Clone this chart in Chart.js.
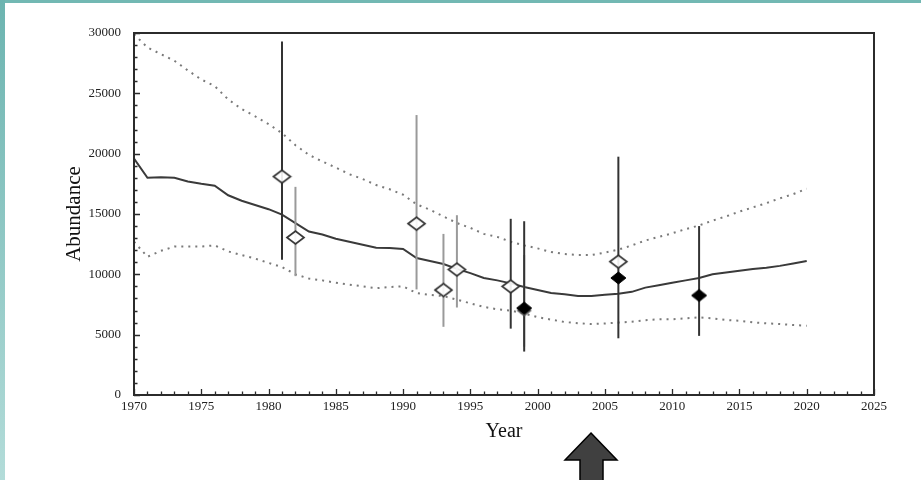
<!DOCTYPE html>
<html>
<head>
<meta charset="utf-8">
<script src="https://cdn.jsdelivr.net/npm/chart.js@4"></script>
<style>
  html,body{margin:0;padding:0;background:#fff;}
  #wrap{position:relative;width:921px;height:480px;overflow:hidden;background:#fff;}
  #c{position:absolute;left:0;top:0;}
  #topbar{position:absolute;left:0;top:0;width:921px;height:3px;background:#72b8b3;}
  #leftbar{position:absolute;left:0;top:0;width:5px;height:480px;background:linear-gradient(to bottom,#6cb4b0,#b3dcd9);}
  #arrow{position:absolute;left:0;top:0;}
</style>
</head>
<body>
<div id="wrap">
  <canvas id="c" width="921" height="480"></canvas>
  <div id="topbar"></div>
  <div id="leftbar"></div>
  <svg id="arrow" width="921" height="480">
    <polygon points="591,433 617,460 603,460 603,482 580,482 580,460 565,460" fill="#404040" stroke="#000" stroke-width="1.5"/>
  </svg>
</div>
<script>
// ---- data ----
const years = [1970,1971,1972,1973,1974,1975,1976,1977,1978,1979,
  1980,1981,1982,1983,1984,1985,1986,1987,1988,1989,
  1990,1991,1992,1993,1994,1995,1996,1997,1998,1999,
  2000,2001,2002,2003,2004,2005,2006,2007,2008,2009,
  2010,2011,2012,2013,2014,2015,2016,2017,2018,2019,2020];
const meanAbundance = [19600,18000,18050,18000,17700,17500,17350,16550,16100,15750,
  15400,14950,14250,13550,13300,12950,12700,12450,12200,12180,
  12100,11350,11100,10850,10450,10100,9700,9500,9250,8950,
  8700,8450,8350,8200,8200,8300,8400,8550,8900,9100,
  9300,9500,9700,10000,10150,10300,10450,10550,10700,10900,11100];
const upperBound = [29900,28800,28250,27700,26900,26150,25600,24500,23700,23100,
  22450,21700,20700,19900,19350,18850,18300,17900,17400,17050,
  16600,15800,15350,14800,14250,13850,13350,13100,12700,12400,
  12150,11850,11680,11600,11600,11800,12050,12400,12800,13100,
  13400,13750,14050,14450,14800,15200,15550,15900,16300,16650,17100];
const lowerBound = [12700,11450,11950,12300,12300,12300,12400,11900,11600,11300,
  10950,10600,10000,9650,9500,9300,9150,9000,8850,8950,
  9000,8450,8300,8200,7900,7600,7300,7100,7000,6750,
  6450,6250,6050,5950,5880,5930,6000,6070,6200,6270,
  6270,6350,6440,6350,6220,6150,6020,5940,5880,5800,5740];

const barYears = [1981,1982,1991,1993,1994,1998,1999,1999,2006,2012];
const barLow   = [11200,9850,8750,5650,7250,5500,3600,4000,4700,4900];
const barHigh  = [29300,17250,23200,13350,14900,14600,14400,11600,19750,14000];
const barShade = ['dark','gray','gray','gray','gray','dark','dark','gray','dark','dark'];

const openYears  = [1981,1982,1991,1993,1994,1998,2006];
const openValues = [18100,13050,14200,8700,10400,9000,11050];
const filledYears  = [1999,2006,2012];
const filledValues = [7200,9700,8250];
const ghostYears  = [1999];
const ghostValues = [7000];

const xTicks = [1970,1975,1980,1985,1990,1995,2000,2005,2010,2015,2020,2025];
const yTicks = [0,5000,10000,15000,20000,25000,30000];

// ---- marker images ----
function diamond(w,h,fill,stroke,lw){
  const c=document.createElement('canvas');
  c.width=w+4; c.height=h+4;
  const g=c.getContext('2d');
  const cx=c.width/2, cy=c.height/2;
  g.beginPath();
  g.moveTo(cx-w/2,cy); g.lineTo(cx,cy-h/2); g.lineTo(cx+w/2,cy); g.lineTo(cx,cy+h/2); g.closePath();
  g.fillStyle=fill; g.fill();
  if(lw>0){g.lineWidth=lw; g.strokeStyle=stroke; g.stroke();}
  return c;
}
const openMark = diamond(17,13,'rgba(255,255,255,0.9)','#333',1.7);
const fillMark = diamond(15,12,'#000','#000',1);
const ghostMark = diamond(15,12,'#555','#555',0);

const toXY = (xs,ys)=>xs.map((x,i)=>({x:x,y:ys[i]}));

const datasets = [];
datasets.push({data:toXY(openYears,openValues),showLine:false,pointStyle:openMark,pointRadius:8,order:0});
datasets.push({data:toXY(filledYears,filledValues),showLine:false,pointStyle:fillMark,pointRadius:8,order:0});
datasets.push({data:toXY(ghostYears,ghostValues),showLine:false,pointStyle:ghostMark,pointRadius:8,order:1});
barYears.forEach((yr,i)=>{
  datasets.push({data:[{x:yr,y:barLow[i]},{x:yr,y:barHigh[i]}],showLine:true,
    borderColor: barShade[i]==='dark' ? '#333' : '#9a9a9a',
    borderWidth:2,pointRadius:0,order: barShade[i]==='dark'?2:3});
});
datasets.push({data:toXY(years,meanAbundance),showLine:true,borderColor:'#3a3a3a',borderWidth:2,pointRadius:0,tension:0,order:4});
datasets.push({data:toXY(years,upperBound),showLine:true,borderColor:'#7a7a7a',borderWidth:2,borderDash:[2,5],pointRadius:0,order:5});
datasets.push({data:toXY(years,lowerBound),showLine:true,borderColor:'#7a7a7a',borderWidth:2,borderDash:[2,5],pointRadius:0,order:5});

const frameTicks = {
  id:'frameTicks',
  afterDraw(chart){
    const {ctx, chartArea:a, scales:{x,y}} = chart;
    ctx.save();
    ctx.strokeStyle='#2b2b2b'; ctx.lineWidth=2;
    ctx.strokeRect(a.left, a.top, a.right-a.left, a.bottom-a.top);
    ctx.lineWidth=1.3;
    ctx.beginPath();
    for(let v=x.min; v<=x.max; v+=1){
      const px=Math.round(x.getPixelForValue(v))+0.5;
      const len=(v%5===0)?6:3.5;
      ctx.moveTo(px,a.bottom); ctx.lineTo(px,a.bottom-len);
    }
    for(let v=y.min; v<=y.max; v+=1000){
      const py=Math.round(y.getPixelForValue(v))+0.5;
      const len=(v%5000===0)?6:3.5;
      ctx.moveTo(a.left,py); ctx.lineTo(a.left+len,py);
    }
    ctx.stroke();
    ctx.restore();
  }
};

new Chart(document.getElementById('c'),{
  type:'scatter',
  data:{datasets:datasets},
  options:{
    responsive:false,
    animation:false,
    layout:{padding:{left:58,top:33,right:47,bottom:32}},
    plugins:{legend:{display:false},tooltip:{enabled:false}},
    scales:{
      x:{type:'linear',min:1970,max:2025,
        afterBuildTicks:(s)=>{s.ticks=xTicks.map(v=>({value:v}));},
        afterFit:(s)=>{s.height=53;},
        grid:{display:false,drawTicks:false},
        border:{display:false},
        ticks:{padding:4,color:'#222',font:{family:'"Liberation Serif", serif',size:13},maxRotation:0,callback:(v)=>String(v)},
        title:{display:true,text:'Year',color:'#111',font:{family:'"Liberation Serif", serif',size:20}}
      },
      y:{type:'linear',min:0,max:30000,
        afterBuildTicks:(s)=>{s.ticks=yTicks.map(v=>({value:v}));},
        afterFit:(s)=>{s.width=76;},
        grid:{display:false,drawTicks:false},
        border:{display:false},
        ticks:{padding:13,color:'#222',font:{family:'"Liberation Serif", serif',size:13},callback:(v)=>String(v)},
        title:{display:true,text:'Abundance',color:'#111',font:{family:'"Liberation Serif", serif',size:21}}
      }
    }
  },
  plugins:[frameTicks]
});
</script>
</body>
</html>
